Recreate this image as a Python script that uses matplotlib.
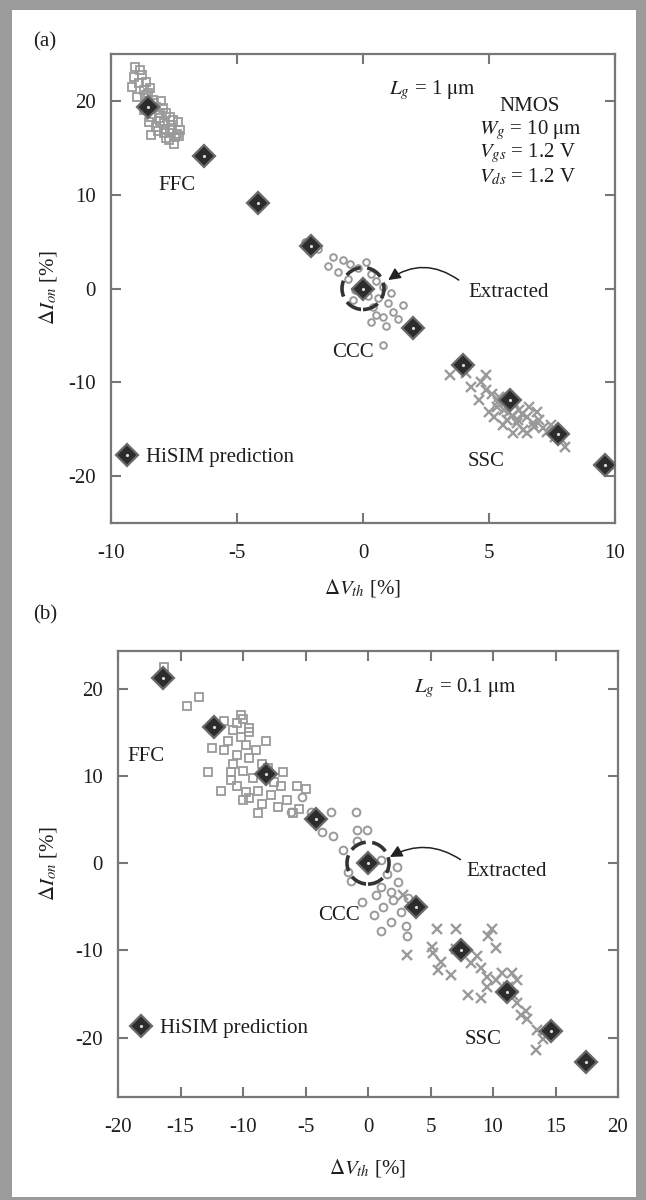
import matplotlib
matplotlib.use("Agg")
import matplotlib.pyplot as plt
from matplotlib.patches import Rectangle

plt.rcParams['font.family'] = ['Liberation Serif', 'DejaVu Serif']
plt.rcParams['mathtext.fontset'] = 'stix'
plt.rcParams['axes.unicode_minus'] = False

# ---------------- data: panel (a), Lg = 1 um ----------------
a_hisim_x = [-8.55, -6.3, -4.15, -2.05, 0.0, 2.0, 3.95, 5.85, 7.75, 9.6]
a_hisim_y = [19.4, 14.1, 9.1, 4.5, 0.0, -4.2, -8.2, -11.9, -15.5, -18.8]
a_ffc_x = [-9.05, -8.85, -9.1, -9.17, -8.9, -8.7, -8.97, -8.53, -8.33, -8.2, -8.05, -8.4, -7.8,
           -7.55, -7.35, -7.9, -8.5, -7.65, -7.25, -8.4, -7.45, -7.8, -8.2, -8.7, -7.9, -7.65, -8.1,
           -8.6, -7.5, -7.7, -8.75, -8.45, -8.0, -7.95, -7.6, -8.3, -8.15, -7.4, -8.6, -7.85,
           -8.05, -7.3]
a_ffc_y = [23.6, 23.3, 22.5, 21.5, 21.9, 21.2, 20.4, 20.8, 20.1, 19.4, 18.7, 18.3, 18.7,
           18.0, 17.8, 17.6, 17.8, 16.9, 16.9, 16.4, 16.2, 16.0, 17.2, 19.0, 16.6, 18.3, 18.2,
           22.0, 15.4, 15.8, 22.8, 21.4, 20.0, 19.2, 17.4, 19.8, 16.8, 16.5, 20.6, 17.0,
           17.9, 16.3]
a_ccc_x = [-2.3, -1.8, -1.2, -0.8, -0.5, -0.2, 0.3, -0.6, 0.5, 0.8, -0.3, 0.2, 0.6, 1.0, 0.4,
           1.2, 0.8, 1.4, 0.9, 0.8, -1.0, 0.1, 1.1, 0.5, 1.6, -0.4, 0.3, -1.4]
a_ccc_y = [5.0, 4.2, 3.4, 3.0, 2.6, 2.2, 1.5, 1.0, 0.8, 0.2, -0.2, -0.8, -1.0, -1.5, -2.0,
           -2.5, -3.0, -3.2, -4.0, -6.0, 1.8, 2.8, -0.5, -2.8, -1.8, -1.2, -3.6, 2.4]
a_ssc_x = [3.45, 4.1, 4.9, 4.3, 4.9, 4.6, 5.3, 5.2, 5.7, 6.2, 6.5, 6.75, 7.0, 7.15, 6.35, 6.1,
           5.95, 8.0, 7.9, 5.4, 5.0, 6.6, 6.9, 5.8, 6.5, 5.55, 6.0, 5.6, 4.7, 5.1, 6.3, 6.8,
           7.3, 7.6, 5.9, 6.15, 5.35, 7.45]
a_ssc_y = [-9.2, -9.0, -9.2, -10.5, -10.8, -11.9, -12.6, -13.7, -14.0, -13.0, -13.7, -14.3,
           -14.0, -14.9, -15.1, -14.3, -15.4, -16.9, -16.1, -11.6, -13.2, -12.6, -13.2, -13.2,
           -15.4, -14.6, -12.2, -12.9, -10.0, -11.2, -13.4, -14.8, -15.3, -15.8, -13.6, -14.0,
           -12.1, -14.5]

# ---------------- data: panel (b), Lg = 0.1 um ----------------
b_hisim_x = [-16.4, -12.3, -8.2, -4.2, 0.0, 3.8, 7.4, 11.1, 14.6, 17.4]
b_hisim_y = [21.2, 15.6, 10.2, 5.0, 0.0, -5.0, -10.0, -14.8, -19.2, -22.8]
b_ffc_x = [-16.3, -14.5, -13.5, -11.5, -10.5, -10.0, -10.8, -11.2, -10.2, -9.5, -9.8, -11.5,
           -12.5, -10.5, -9.5, -10.8, -9.0, -8.5, -11.0, -10.0, -9.2, -8.0, -7.5, -10.5, -9.8,
           -8.8, -10.0, -9.5, -7.8, -7.0, -6.5, -6.8, -8.5, -7.2, -5.0, -5.5, -12.8, -11.8,
           -8.2, -9.5, -10.2, -11.0, -8.8, -6.0, -5.7]
b_ffc_y = [22.5, 18.0, 19.0, 16.3, 16.0, 16.5, 15.3, 14.0, 14.5, 15.5, 13.5, 13.0, 13.2, 12.4,
           12.0, 11.4, 13.0, 11.4, 10.4, 10.6, 9.8, 10.9, 9.3, 8.8, 8.1, 8.3, 7.2, 7.5, 7.8,
           8.8, 7.2, 10.4, 6.8, 6.4, 8.5, 6.2, 10.4, 8.3, 14.0, 15.0, 17.0, 9.5, 5.7, 5.7, 8.8]
b_ccc_x = [-5.3, -6.2, -4.6, -3.0, -1.0, -3.7, -2.8, -0.9, -0.1, -0.9, -2.0, 1.0, 2.3, -1.4,
           1.0, 1.8, 0.6, 2.0, 3.2, 1.2, 2.6, 0.5, 1.8, 3.0, -0.5, 1.0, 3.1, 1.5, -1.6, 2.4]
b_ccc_y = [7.6, 5.9, 5.9, 5.8, 5.9, 3.6, 3.1, 3.8, 3.8, 2.5, 1.5, 0.4, -0.5, -2.1, -2.7, -3.3,
           -3.6, -4.2, -4.0, -5.0, -5.6, -6.0, -6.8, -7.2, -4.5, -7.8, -8.3, -1.2, -1.0, -2.2]
b_ssc_x = [2.8, 5.5, 7.0, 9.9, 9.6, 5.1, 3.1, 5.2, 7.0, 10.2, 5.8, 5.6, 6.6, 8.2, 8.7, 9.0, 9.5,
           10.2, 11.5, 11.9, 8.0, 9.0, 11.6, 11.9, 12.2, 12.7, 12.6, 13.5, 13.4, 14.0, 10.7, 9.5,
           11.2]
b_ssc_y = [-3.6, -7.6, -7.6, -7.6, -8.4, -9.6, -10.5, -10.3, -9.9, -9.7, -11.3, -12.2, -12.8,
           -11.4, -10.7, -12.0, -13.0, -13.4, -12.6, -13.4, -15.1, -15.4, -15.1, -16.0, -17.4,
           -17.9, -17.0, -19.1, -21.4, -20.2, -12.6, -14.2, -14.2]

a_xticks = [-10, -5, 0, 5, 10]
b_xticks = [-20, -15, -10, -5, 0, 5, 10, 15, 20]
yticks = [-20, -10, 0, 10, 20]

W, H = 646, 1200
fig = plt.figure(figsize=(W / 100, H / 100), dpi=100)
fig.patch.set_facecolor('#9b9b9b')
fig.patches.append(Rectangle((12 / W, 1 - 1197 / H), (636 - 12) / W, (1197 - 10) / H,
                             transform=fig.transFigure, facecolor='white', edgecolor='none',
                             zorder=-10))

GRAY = '#9a9a9a'
DARK = '#2c2c2c'
TXT = '#1e1e1e'
SP = '#777777'
FS = 15


def px_axes(l, r, t, b):
    return [l / W, 1 - b / H, (r - l) / W, (b - t) / H]


def style(ax, xt, xlim, ylim):
    ax.set_xlim(*xlim)
    ax.set_ylim(*ylim)
    ax.set_xticks(xt)
    ax.set_yticks(yticks)
    ax.tick_params(direction='in', length=7, width=1.5, color=SP, top=True, right=True,
                   labelsize=FS, labelcolor=TXT)
    ax.tick_params(axis='x', pad=15)
    ax.tick_params(axis='y', pad=11)
    for s in ax.spines.values():
        s.set_color(SP)
        s.set_linewidth(1.6)


def diamond(ax, x, y):
    ax.plot(x, y, 'D', ms=11, mfc=DARK, mec='#6a6a6a', mew=1.6, ls='none', zorder=4)
    ax.plot(x, y, '.', ms=2.5, color='#dddddd', ls='none', zorder=5)


def draw(ax, hx, hy, fx, fy, cx, cy, sx, sy, csize):
    ax.plot(fx, fy, 's', ms=6.2, mfc='none', mec=GRAY, mew=1.3, ls='none', zorder=2)
    ax.plot(cx, cy, 'o', ms=csize, mfc='none', mec=GRAY, mew=1.4, ls='none', zorder=2)
    ax.plot(sx, sy, 'x', ms=7.5, mec=GRAY, mew=1.7, ls='none', zorder=2)
    diamond(ax, hx, hy)
    ax.scatter([hx[4]], [hy[4]], s=(2 * 21 * 0.72) ** 2, facecolors='none', edgecolors='#333333',
               linewidths=2.6, linestyles=(0, (4.5, 1.8)), zorder=6)


# ---------------- panel (a) ----------------
ax1 = fig.add_axes(px_axes(111, 615, 54, 523))
style(ax1, a_xticks, (-10, 10), (-25, 25))
draw(ax1, a_hisim_x, a_hisim_y, a_ffc_x, a_ffc_y, a_ccc_x, a_ccc_y, a_ssc_x, a_ssc_y, 4.8)
diamond(ax1, [-9.35], [-17.8])
ax1.text(-8.6, -18.0, 'HiSIM prediction', fontsize=FS, color=TXT, va='center', ha='left')
ax1.text(-7.4, 11.0, 'FFC', fontsize=FS, color=TXT, ha='center', va='center')
ax1.text(-0.4, -6.8, 'CCC', fontsize=FS, color=TXT, ha='center', va='center')
ax1.text(4.9, -18.4, 'SSC', fontsize=FS, color=TXT, ha='center', va='center')
ax1.text(4.2, -0.4, 'Extracted', fontsize=FS, color=TXT, ha='left', va='center')
ax1.annotate('', xy=(1.0, 0.9), xytext=(3.8, 0.9),
             arrowprops=dict(arrowstyle='-|>', connectionstyle='arc3,rad=0.35', color='#222222',
                             lw=1.1, mutation_scale=18, shrinkA=0, shrinkB=0), zorder=7)
ax1.text(4.5, 21.2, r'$L_g$ = 1 $\mathrm{\mu m}$', fontsize=FS, color=TXT, ha='right', va='center')
ax1.text(6.6, 19.4, 'NMOS', fontsize=FS, color=TXT, ha='center', va='center')
ax1.text(4.6, 16.9, r'$W_g$ = 10 $\mathrm{\mu m}$', fontsize=FS, color=TXT, ha='left', va='center')
ax1.text(4.6, 14.4, r'$V_{gs}$ = 1.2 V', fontsize=FS, color=TXT, ha='left', va='center')
ax1.text(4.6, 11.9, r'$V_{ds}$ = 1.2 V', fontsize=FS, color=TXT, ha='left', va='center')

# ---------------- panel (b) ----------------
ax2 = fig.add_axes(px_axes(118, 618, 651, 1097))
style(ax2, b_xticks, (-20, 20), (-26.8, 24.3))
draw(ax2, b_hisim_x, b_hisim_y, b_ffc_x, b_ffc_y, b_ccc_x, b_ccc_y, b_ssc_x, b_ssc_y, 5.6)
diamond(ax2, [-18.2], [-18.7])
ax2.text(-16.6, -18.9, 'HiSIM prediction', fontsize=FS, color=TXT, va='center', ha='left')
ax2.text(-17.8, 12.2, 'FFC', fontsize=FS, color=TXT, ha='center', va='center')
ax2.text(-2.3, -6.0, 'CCC', fontsize=FS, color=TXT, ha='center', va='center')
ax2.text(9.2, -20.2, 'SSC', fontsize=FS, color=TXT, ha='center', va='center')
ax2.text(7.9, -1.0, 'Extracted', fontsize=FS, color=TXT, ha='left', va='center')
ax2.annotate('', xy=(1.75, 0.7), xytext=(7.4, 0.4),
             arrowprops=dict(arrowstyle='-|>', connectionstyle='arc3,rad=0.3', color='#222222',
                             lw=1.1, mutation_scale=18, shrinkA=0, shrinkB=0), zorder=7)
ax2.text(3.7, 20.0, r'$L_g$ = 0.1 $\mathrm{\mu m}$', fontsize=FS, color=TXT, ha='left', va='center')

# ---------------- labels ----------------
fig.text(45 / W, 1 - 42 / H, '(a)', fontsize=FS, color=TXT, ha='center', va='center')
fig.text(45 / W, 1 - 615 / H, '(b)', fontsize=FS, color=TXT, ha='center', va='center')
fig.text(363 / W, 1 - 588 / H, r'$\Delta V_{th}$ [%]', fontsize=FS, color=TXT, ha='center', va='center')
fig.text(368 / W, 1 - 1168 / H, r'$\Delta V_{th}$ [%]', fontsize=FS, color=TXT, ha='center', va='center')
fig.text(48 / W, 1 - 288 / H, r'$\Delta I_{on}$ [%]', fontsize=FS, color=TXT, ha='center', va='center',
         rotation=90)
fig.text(48 / W, 1 - 864 / H, r'$\Delta I_{on}$ [%]', fontsize=FS, color=TXT, ha='center', va='center',
         rotation=90)

fig.savefig('out.png', dpi=100, facecolor=fig.get_facecolor())
